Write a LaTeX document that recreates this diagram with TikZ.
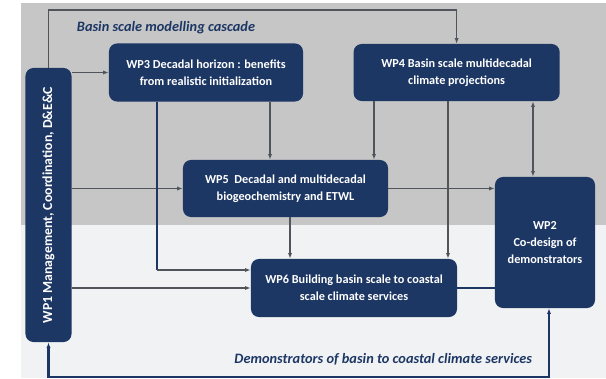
\documentclass[tikz,border=0pt]{standalone}
\usepackage{fontspec}
\setmainfont{Carlito}
\usepackage{graphicx}
\usepackage{tikz}
\usetikzlibrary{positioning, arrows.meta}

\definecolor{navy}{HTML}{1D3764}
\definecolor{panelgray}{HTML}{C6C6C6}
\definecolor{panellight}{HTML}{F1F2F4}
\definecolor{linkgray}{HTML}{50555C}

\begin{document}
\begin{tikzpicture}[x=0.025cm, y=-0.025cm, >={Latex[length=4pt,width=3pt]},
    wpbox/.style={fill=navy, text=white, rounded corners=0.2cm, align=center, inner sep=2pt,
        font=\fontsize{8.7}{11.8}\selectfont\bfseries},
    link/.style={draw=linkgray, line width=0.75pt},
    trunk/.style={draw=navy, line width=1.5pt},
    tag/.style={text=navy, font=\fontsize{10.2}{12}\selectfont\bfseries\itshape}]

    \useasboundingbox (0,0) rectangle (606,379);
    \fill[panellight] (21,3) rectangle (606,378);
    \fill[panelgray] (21,3) rectangle (606,225);

    \node[wpbox, minimum width=1.15cm, minimum height=6.85cm] (wp1) at (48.5,205)
        {\rotatebox{90}{\fontsize{9.8}{11}\selectfont WP1 Management, Coordination, D\&E\&C}};
    \node[wpbox, minimum width=4.85cm, minimum height=1.45cm] (wp3) at (206,72.5)
        {WP3 Decadal horizon : benefits\\from realistic initialization};
    \node[wpbox, minimum width=5.15cm, minimum height=1.425cm, right=1.25cm of wp3] (wp4)
        {WP4 Basin scale multidecadal\\climate projections};
    \node[wpbox, minimum width=5.125cm, minimum height=1.425cm] (wp5) at (285.5,188.5)
        {WP5\ \ Decadal and multidecadal\\biogeochemistry and ETWL};
    \node[wpbox, minimum width=5.15cm, minimum height=1.45cm] (wp6) at (354,288)
        {WP6 Building basin scale to coastal\\scale climate services};
    \node[wpbox, minimum width=2.5cm, minimum height=3.275cm] (wp2) at (545,242.5)
        {WP2\\Co-design of\\demonstrators};

    \node[tag, anchor=west] (cascade) at (72,28) {Basin scale modelling cascade};
    \node[tag, anchor=east] (demo) at (537,359) {Demonstrators of basin to coastal climate services};

    % colonne e righe dei collegamenti
    \coordinate (xa) at (157,0);
    \coordinate (xb) at (270,0);
    \coordinate (xc) at (374,0);
    \coordinate (xd) at (448,0);
    \coordinate (xe) at (533,0);
    \coordinate (xf) at (290,0);
    \coordinate (xg) at (549,0);
    \coordinate (ya) at (0,10);
    \coordinate (yb) at (0,270);
    \coordinate (yc) at (0,377);

    \draw[link, ->] (wp1.north) |- (ya -| wp4.north) -- (wp4.north);
    \draw[link, ->] (wp1.east |- wp3.west) -- (wp3.west);
    \draw[link, ->] (wp1.east |- wp5.west) -- (wp5.west);
    \draw[link, ->] (wp1.east |- wp6.west) -- (wp6.west);

    \draw[trunk] (wp3.south -| xa) -- (xa |- yb);
    \draw[link, ->] (xa |- yb) -- (yb -| wp6.west);
    \draw[link, ->] (wp3.south -| xb) -- (wp5.north -| xb);
    \draw[link, ->] (wp4.south -| xc) -- (wp5.north -| xc);
    \draw[link, ->] (wp4.south -| xd) -- (wp6.north -| xd);
    \draw[link, <->] (wp4.south -| xe) -- (wp2.north -| xe);

    \draw[link, ->] (wp5.east) -- (wp5.east -| wp2.west);
    \draw[link, ->] (wp5.south -| xf) -- (wp6.north -| xf);
    \draw[trunk] (wp6.east) -- (wp6.east -| wp2.west);

    \draw[trunk, <->] (wp1.south) |- (yc -| xg) -- (wp2.south -| xg);

\end{tikzpicture}
\end{document}
